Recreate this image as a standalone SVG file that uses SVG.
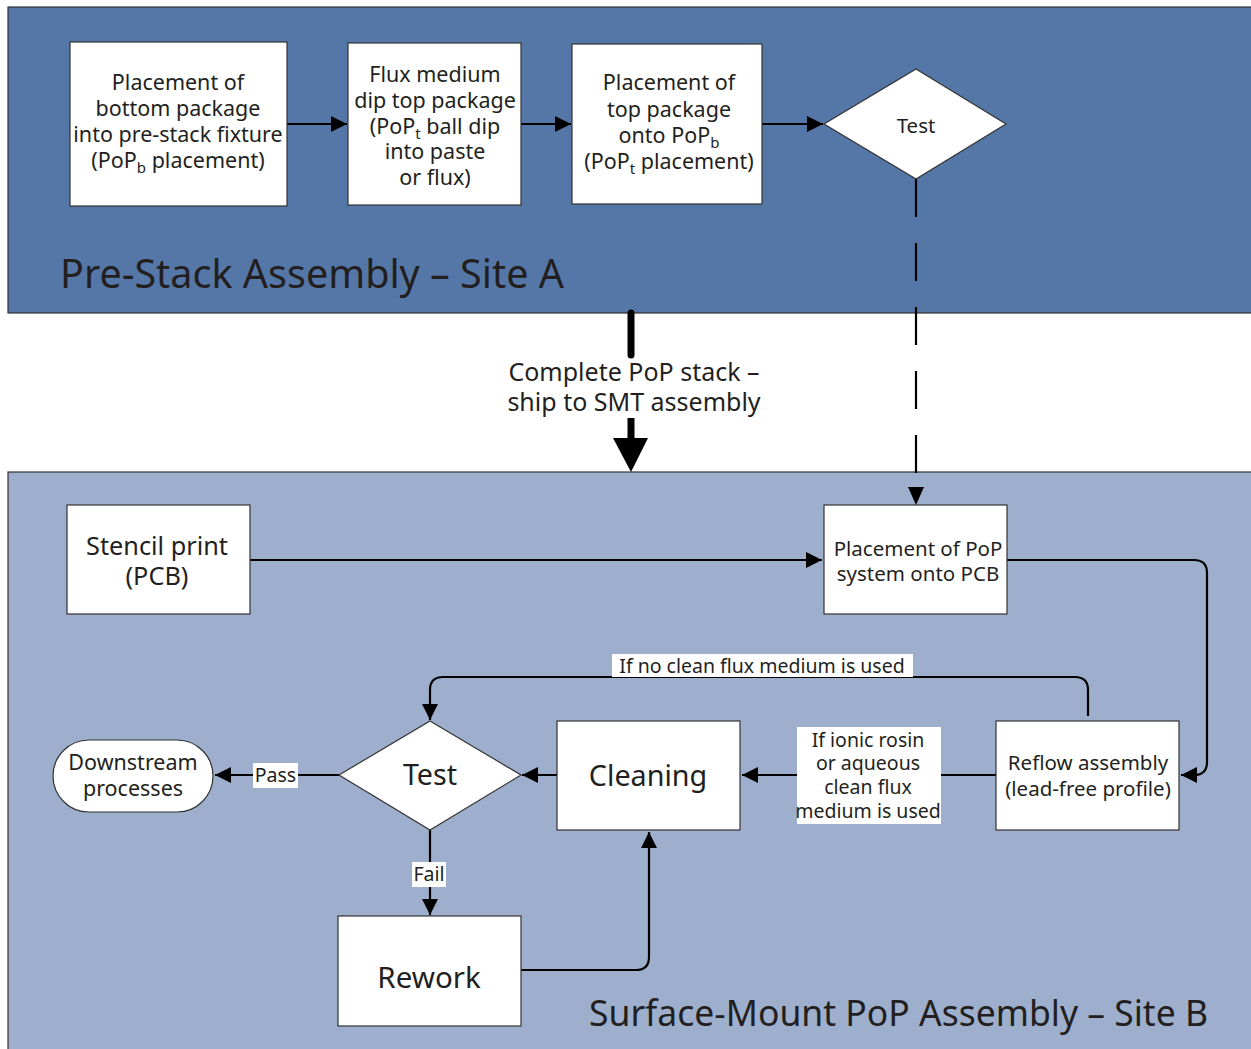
<svg xmlns="http://www.w3.org/2000/svg" width="1251" height="1049" viewBox="0 0 1251 1049">
<style>
text{font-family:"Noto Sans","Open Sans","DejaVu Sans",sans-serif;fill:#231f20;text-anchor:middle}
.box{fill:#fff;stroke:#333;stroke-width:1.2}
.t21{font-size:21.5px}
.t20{font-size:20.5px}
.t19{font-size:19.5px}
.big{font-size:25.3px}
.huge{font-size:28.7px}
.ln{fill:none;stroke:#000;stroke-width:2.2}
.lbl{fill:#fff}
.sub{font-size:15px}
</style>
<defs>
<marker id="ah" viewBox="0 0 10 10" refX="10" refY="5" markerWidth="9" markerHeight="9" markerUnits="userSpaceOnUse" orient="auto">
<path d="M0,0 L10,5 L0,10 z" fill="#000"/>
</marker>
<marker id="ahL" viewBox="0 0 10 10" refX="10" refY="5" markerWidth="16" markerHeight="16" markerUnits="userSpaceOnUse" orient="auto">
<path d="M0,0 L10,5 L0,10 z" fill="#000"/>
</marker>
</defs>
<rect width="1251" height="1049" fill="#fff"/>
<g id="panelA">
<rect x="8" y="7" width="1250" height="306" fill="#5577a7" stroke="#333" stroke-width="1.2"/>
<text x="60" y="288" style="font-size:39.5px;text-anchor:start">Pre-Stack Assembly – Site A</text>
</g>
<g id="panelB">
<rect x="8" y="472" width="1250" height="590" fill="#9dafcd" stroke="#333" stroke-width="1.2"/>
<text x="1208" y="1026" style="font-size:35.5px;text-anchor:end">Surface-Mount PoP Assembly – Site B</text>
</g>

<g id="connectors">
<line class="ln" x1="287" y1="124" x2="347" y2="124" marker-end="url(#ahL)"/>
<line class="ln" x1="521" y1="124" x2="571" y2="124" marker-end="url(#ahL)"/>
<line class="ln" x1="762" y1="124" x2="823" y2="124" marker-end="url(#ahL)"/>
<line class="ln" x1="916" y1="179" x2="916" y2="488" stroke-dasharray="38 26"/>
<path d="M908,487 L924,487 L916,505 z" fill="#000"/>
<line x1="631" y1="313" x2="631" y2="355" stroke="#000" stroke-width="7" stroke-linecap="round"/>
<line x1="631" y1="418" x2="631" y2="440" stroke="#000" stroke-width="7"/>
<path d="M613,438 L648,438 L631,472 z" fill="#000"/>
<line class="ln" x1="250" y1="560" x2="822" y2="560" marker-end="url(#ahL)"/>
<path class="ln" d="M1007,560 H1194 Q1207,560 1207,573 V762 Q1207,775 1194,775 H1181" marker-end="url(#ahL)"/>
<line class="ln" x1="996" y1="775" x2="742" y2="775" marker-end="url(#ahL)"/>
<line class="ln" x1="557" y1="775" x2="522" y2="775" marker-end="url(#ahL)"/>
<line class="ln" x1="339" y1="775" x2="215" y2="775" marker-end="url(#ahL)"/>
<line class="ln" x1="430" y1="830" x2="430" y2="915" marker-end="url(#ahL)"/>
<path class="ln" d="M521,970 H636 Q649,970 649,957 V832" marker-end="url(#ahL)"/>
<path class="ln" d="M1088,716 V690 Q1088,677 1075,677 H443 Q430,677 430,690 V720" marker-end="url(#ahL)"/>
<rect class="lbl" x="612" y="654" width="301" height="23"/>
<text class="t19" x="762" y="672.5">If no clean flux medium is used</text>
<rect class="lbl" x="797" y="727" width="144" height="97"/>
<text class="t19" x="868" y="747">If ionic rosin</text>
<text class="t19" x="868" y="770">or aqueous</text>
<text class="t19" x="868" y="794">clean flux</text>
<text class="t19" x="868" y="818">medium is used</text>
<rect class="lbl" x="253" y="763" width="45" height="25"/>
<text class="t19" x="275.5" y="782">Pass</text>
<rect class="lbl" x="412" y="862" width="34" height="25"/>
<text class="t19" x="429" y="881">Fail</text>
<text x="634" y="381" style="font-size:25px">Complete PoP stack –</text>
<text x="634" y="411" style="font-size:25px">ship to SMT assembly</text>
</g>

<g id="n-bottom-placement">
<rect class="box" x="70" y="42" width="217" height="164"/>
<text class="t21" x="178" y="90">Placement of</text>
<text class="t21" x="178" y="116">bottom package</text>
<text class="t21" x="178" y="142">into pre-stack fixture</text>
<text class="t21" x="178" y="168">(PoP<tspan class="sub" baseline-shift="-5">b</tspan> placement)</text>
</g>
<g id="n-flux-dip">
<rect class="box" x="348" y="43" width="173" height="162"/>
<text class="t21" x="435" y="82">Flux medium</text>
<text class="t21" x="435" y="108">dip top package</text>
<text class="t21" x="435" y="134">(PoP<tspan class="sub" baseline-shift="-5">t</tspan> ball dip</text>
<text class="t21" x="435" y="159">into paste</text>
<text class="t21" x="435" y="185">or flux)</text>
</g>
<g id="n-top-placement">
<rect class="box" x="572" y="44" width="190" height="160"/>
<text class="t21" x="669" y="90">Placement of</text>
<text class="t21" x="669" y="117">top package</text>
<text class="t21" x="669" y="143">onto PoP<tspan class="sub" baseline-shift="-5">b</tspan></text>
<text class="t21" x="669" y="169">(PoP<tspan class="sub" baseline-shift="-5">t</tspan> placement)</text>
</g>
<g id="n-test-a">
<path class="box" d="M916,69 L1006,124 L916,179 L824,124 z"/>
<text class="t20" x="916" y="133">Test</text>
</g>
<g id="n-stencil">
<rect class="box" x="67" y="505" width="183" height="109"/>
<text class="big" x="157" y="555">Stencil print</text>
<text class="big" x="157" y="585">(PCB)</text>
</g>
<g id="n-place-pop">
<rect class="box" x="824" y="505" width="183" height="109"/>
<text class="t20" x="918" y="556">Placement of PoP</text>
<text class="t20" x="918" y="581">system onto PCB</text>
</g>
<g id="n-reflow">
<rect class="box" x="996" y="721" width="183" height="109"/>
<text class="t20" x="1088" y="770">Reflow assembly</text>
<text class="t20" x="1088" y="796">(lead-free profile)</text>
</g>
<g id="n-cleaning">
<rect class="box" x="557" y="721" width="183" height="109"/>
<text class="huge" x="648" y="786">Cleaning</text>
</g>
<g id="n-test-b">
<path class="box" d="M430,721 L521,775 L430,830 L339,775 z"/>
<text class="huge" x="430" y="785">Test</text>
</g>
<g id="n-downstream">
<rect class="box" x="53" y="740" width="160" height="72" rx="36" ry="36"/>
<text class="t21" x="133" y="770">Downstream</text>
<text class="t21" x="133" y="796">processes</text>
</g>
<g id="n-rework">
<rect class="box" x="338" y="916" width="183" height="110"/>
<text class="huge" x="429" y="988" style="font-size:29.5px">Rework</text>
</g>
</svg>
